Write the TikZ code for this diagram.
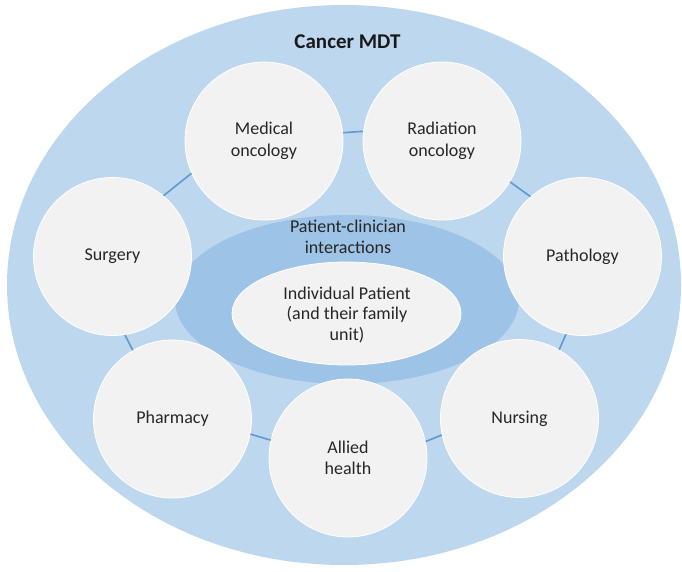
\documentclass[tikz,border=0pt]{standalone}
\usepackage{fontspec}
\setmainfont{Carlito}
\usetikzlibrary{shapes.geometric}
\definecolor{outerblue}{HTML}{BDD7EE}
\definecolor{midblue}{HTML}{9DC3E6}
\definecolor{circfill}{HTML}{F2F2F2}
\definecolor{linkblue}{HTML}{5B9BD5}
\definecolor{txt}{HTML}{262626}
\begin{document}
\begin{tikzpicture}[x=1pt,y=-1pt,
  unit/.style={circle, fill=circfill, draw=white, line width=0.8pt, minimum size=158pt, inner sep=0pt, align=center, text=txt, font=\fontsize{18}{21.5}\selectfont},
  link/.style={draw=linkblue, line width=1.6pt},
  plain/.style={align=center, text=txt, inner sep=0pt, font=\fontsize{18}{20.5}\selectfont}]
\useasboundingbox (0,0) rectangle (682,571);
% background ellipses
\node[ellipse, fill=outerblue, minimum width=674pt, minimum height=560pt, inner sep=0pt] (mdt) at (344,285) {};
\node[ellipse, fill=midblue, minimum width=344pt, minimum height=169pt, inner sep=0pt] (inter) at (347,299.5) {};
\node[ellipse, fill=circfill, draw=white, line width=0.8pt, minimum width=229pt, minimum height=103pt, inner sep=0pt] (pat) at (346.5,313.5) {};
% texts
\node[plain, font=\fontsize{21}{24}\selectfont\bfseries, text=black!90] (mdtlabel) at (347.5,42) {Cancer MDT};
\node[plain] (interlabel) at (348,237) {Patient-clinician\\interactions};
\node[plain] (patlabel) at (347,314.5) {Individual Patient\\(and their family\\unit)};
% discipline circles
\node[unit] (med) at (264,141) {Medical\\oncology};
\node[unit] (rad) at (442,141) {Radiation\\oncology};
\node[unit] (sur) at (112.5,256.5) {Surgery};
\node[unit] (path) at (582.5,256.5) {Pathology};
\node[unit] (pha) at (172.5,419) {Pharmacy};
\node[unit] (all) at (348,458) {Allied\\health};
\node[unit] (nur) at (519.5,418.5) {Nursing};
% connectors
\draw[link] (med.6.5) -- (rad.173.5);
\draw[link] (rad.-31) -- (path.131.4);
\draw[link] (path.-102.6) -- (nur.60.7);
\draw[link] (nur.-168) -- (all.12.8);
\draw[link] (all.167.9) -- (pha.-11.7);
\draw[link] (pha.120.4) -- (sur.-81);
\draw[link] (sur.50.6) -- (med.-156);
\end{tikzpicture}
\end{document}
